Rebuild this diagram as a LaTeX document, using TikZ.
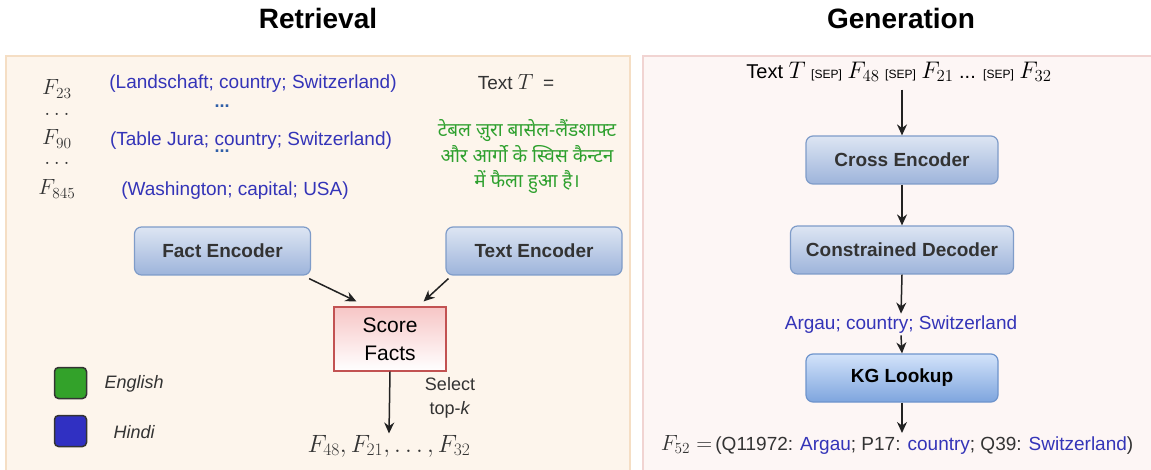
\RequirePackage{fix-cm}
\documentclass[tikz,border=0pt]{standalone}
\usepackage[no-math]{fontspec}
\setmainfont{Liberation Sans}
\newfontfamily\hindifont[Script=Devanagari]{Noto Sans}
\usetikzlibrary{arrows.meta}
\definecolor{leftfill}{HTML}{FDF5EC}
\definecolor{leftborder}{HTML}{F5DEC4}
\definecolor{rightfill}{HTML}{FDF6F5}
\definecolor{rightborder}{HTML}{F1D4D2}
\definecolor{txtblue}{HTML}{3434B8}
\definecolor{dotblue}{HTML}{2F5FA8}
\definecolor{hgreen}{HTML}{2EA02E}
\definecolor{boxtop}{HTML}{DDE5F3}
\definecolor{boxbot}{HTML}{9DB4DB}
\definecolor{boxline}{HTML}{7F9CC9}
\definecolor{kgtop}{HTML}{D3E3FA}
\definecolor{kgbot}{HTML}{7EA5DE}
\definecolor{kgline}{HTML}{6E94CC}
\definecolor{scoretop}{HTML}{F7C6C6}
\definecolor{scorebot}{HTML}{FFFFFF}
\definecolor{scoreline}{HTML}{C25252}
\definecolor{darktxt}{HTML}{333333}
\definecolor{arrowc}{HTML}{222222}
\definecolor{legg}{HTML}{33A22A}
\definecolor{legb}{HTML}{3030C2}
\newcommand{\fs}[1]{\fontsize{#1}{\the\numexpr#1*5/4\relax}\selectfont}
\newcommand{\mth}[1]{{\fs{22}$#1$}}
\newcommand{\mthb}[1]{{\fs{24}$#1$}}
\newcommand{\sep}{{\fs{12}[SEP]}}
\tikzset{
  panelL/.style={draw=leftborder, fill=leftfill, line width=2pt},
  panelR/.style={draw=rightborder, fill=rightfill, line width=2pt},
  encbox/.style={draw=boxline, line width=1.2pt, rounded corners=7pt, top color=boxtop, bottom color=boxbot, font=\fs{19}\bfseries, text=darktxt, inner sep=0pt},
  kgbox/.style={draw=kgline, line width=1.2pt, rounded corners=7pt, top color=kgtop, bottom color=kgbot, font=\fs{19}\bfseries, text=black, inner sep=0pt},
  scorebox/.style={draw=scoreline, line width=1.2pt, top color=scoretop, bottom color=scorebot, font=\fontsize{21}{28}\selectfont, align=center, inner sep=0pt},
  arr/.style={draw=arrowc, line width=1.5pt, -{Stealth[length=11pt,width=10pt]}},
  fact/.style={font=\fs{19}, text=txtblue},
  mathlbl/.style={font=\fs{22}, text=darktxt},
  dotsnode/.style={font=\fs{18}\bfseries, text=dotblue, inner sep=0pt},
  legsq/.style={draw=darktxt, line width=1.5pt, rounded corners=4pt, minimum width=32pt, minimum height=31pt, inner sep=0pt},
  legtxt/.style={font=\fs{18}\itshape, text=darktxt},
  title/.style={font=\fs{28}\bfseries, text=black}
}
\begin{document}
\begin{tikzpicture}[x=1pt,y=-1pt]
\useasboundingbox (0,0) rectangle (1151,470);
% titles
\node[title] (tret) at (318,18) {Retrieval};
\node[title] (tgen) at (901,18) {Generation};
% panels
\path[panelL] (6,56) rectangle (630,478);
\path[panelR] (643,56) rectangle (1158,478);
% left facts
\node[mathlbl] (f23) at (57,89) {$F_{23}$};
\node[mathlbl, inner sep=0pt] (d1) at (57,114) {$\ldots$};
\node[mathlbl] (f90) at (57,139) {$F_{90}$};
\node[mathlbl, inner sep=0pt] (d2) at (57,163) {$\ldots$};
\node[mathlbl] (f845) at (57,189) {$F_{845}$};
\node[fact] (t1) at (253,84) {(Landschaft; country; Switzerland)};
\node[dotsnode] (dd1) at (222,106) {...};
\node[fact] (t2) at (251,141) {(Table Jura; country; Switzerland)};
\node[dotsnode] (dd2) at (222,151) {...};
\node[fact] (t3) at (235,191) {(Washington; capital; USA)};
% text T
\node[font=\fs{19}, text=darktxt] (textT) at (516,82) {Text \mth{T}\enspace =};
\node[font=\fontsize{19}{25.5}\selectfont\hindifont, text=hgreen, align=center, inner sep=0pt] (hindi) at (527,157)
  {टेबल ज़ुरा बासेल-लैंडशाफ्ट\\ और आर्गो के स्विस कैन्टन\\ में फैला हुआ है।};
% encoders
\node[encbox, minimum width=176pt, minimum height=48pt] (factenc) at (222.5,251) {Fact Encoder};
\node[encbox, minimum width=176pt, minimum height=48pt] (textenc) at (534,251) {Text Encoder};
\node[scorebox, minimum width=112pt, minimum height=64pt] (score) at (390,339) {Score\\Facts};
\draw[arr] ([xshift=-2pt,yshift=-3pt]factenc.south east) -- ([xshift=23pt,yshift=5pt]score.north west);
\draw[arr] ([xshift=3pt,yshift=-3pt]textenc.south west) -- ([xshift=-23pt,yshift=5pt]score.north east);
\node[font=\fs{25}, text=darktxt] (topk) at (389,446) {$F_{48}, F_{21}, \ldots, F_{32}$};
\draw[arr] (score.south) -- ([yshift=-2pt]topk.north);
\node[font=\fontsize{18}{24}\selectfont, text=darktxt, align=center] (sel) at (450,398) {Select\\top-\textit{k}};
% legend
\node[legsq, fill=legg] (lg) at (70.5,383) {};
\node[legtxt, anchor=west] (lgt) at (101,384) {English};
\node[legsq, fill=legb] (lb) at (70.5,431) {};
\node[legtxt, anchor=west] (lbt) at (110,432) {Hindi};
% right side
\node[font=\fs{20}, text=black] (inp) at (899,72)
  {Text \mthb{T} \sep{} \mthb{F_{48}} \sep{} \mthb{F_{21}} ... \sep{} \mthb{F_{32}}};
\node[encbox, minimum width=192pt, minimum height=48pt] (cross) at (902,160) {Cross Encoder};
\node[encbox, minimum width=223pt, minimum height=48pt] (cdec) at (902,250) {Constrained Decoder};
\node[fact] (arg) at (901,325) {Argau; country; Switzerland};
\node[kgbox, minimum width=192pt, minimum height=48pt] (kg) at (902,378) {KG Lookup};
\node[font=\fs{19}, text=darktxt] (f52) at (897,445)
  {\mth{F_{52} =}\,(Q11972: \textcolor{txtblue}{Argau}; P17: \textcolor{txtblue}{country}; Q39: \textcolor{txtblue}{Switzerland})};
\draw[arr] ([yshift=-4pt]inp.south -| cross.north) -- (cross.north);
\draw[arr] (cross.south) -- (cdec.north);
\draw[arr] (cdec.south) -- ([yshift=-1pt]arg.north);
\draw[arr] ([yshift=2pt]arg.south) -- (kg.north);
\draw[arr] (kg.south) -- ([yshift=-1pt]f52.north -| kg.south);
\end{tikzpicture}
\end{document}
